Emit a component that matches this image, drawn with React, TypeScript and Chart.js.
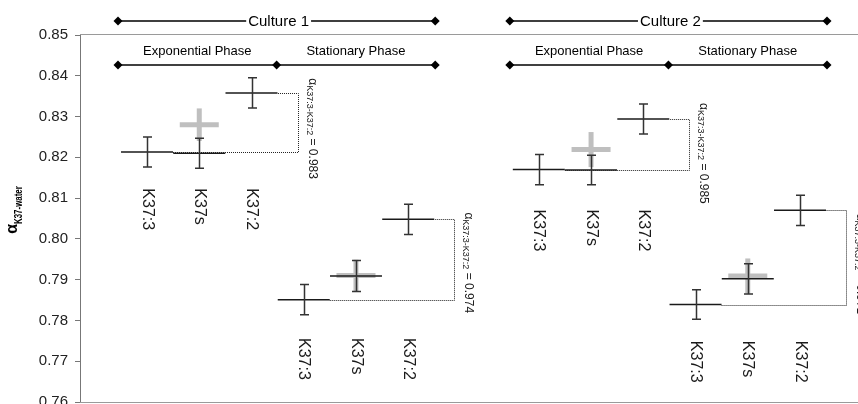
import React, { useEffect, useRef } from "react";
import { Chart, registerables } from "chart.js";

Chart.register(...registerables);

// ---------- data ----------
const categories = ["K37:3", "K37s", "K37:2"];
const cultureNames = ["Culture 1", "Culture 2"];
const phaseNames = ["Exponential Phase", "Stationary Phase"];

// x positions (axis units) of the three compounds in each culture/phase group
const groupX = [
  [1, 2, 3],
  [4, 5, 6],
  [8.5, 9.5, 10.5],
  [11.5, 12.5, 13.5],
];
// alpha K37-water values and their error (±)
const groupValues = [
  [0.8213, 0.821, 0.8358],
  [0.7851, 0.7909, 0.8048],
  [0.817, 0.8169, 0.8294],
  [0.7839, 0.7902, 0.807],
];
const groupErrors = [
  [0.0037, 0.0037, 0.0037],
  [0.0037, 0.0038, 0.0037],
  [0.0037, 0.0036, 0.0037],
  [0.0036, 0.0037, 0.0037],
];
// grey K37s estimate
const k37sGreyValues = [0.828, 0.791, 0.8219, 0.7909];
const k37sGreyErrors = [0.004, 0.0039, 0.0043, 0.0043];
// alpha K37:3-K37:2 annotations
const alphaRatios = ["0.983", "0.974", "0.985", "0.971"];
const alphaLabelTop = [0.8394, 0.8065, 0.8333, 0.8062];
// y value where the compound labels begin
const compoundLabelTop = [0.8124, 0.7757, 0.8072, 0.775];

const yMin = 0.76;
const yMax = 0.85;
const yStep = 0.01;

// ---------- styles ----------
const FONT = "'Liberation Sans', Arial, sans-serif";
const BLACK = "#1a1a1a";
const ERR = "#333333";
const GREY = "#bfbfbf";
const HALF = 26;

function diamond(ctx: CanvasRenderingContext2D, x: number, y: number, r: number) {
  ctx.beginPath();
  ctx.moveTo(x, y - r);
  ctx.lineTo(x + r, y);
  ctx.lineTo(x, y + r);
  ctx.lineTo(x - r, y);
  ctx.closePath();
  ctx.fill();
}

const overlay = {
  id: "overlay",
  beforeDatasetsDraw(chart: any) {
    const { ctx, scales } = chart;
    const x = scales.x;
    const y = scales.y;
    ctx.save();
    ctx.strokeStyle = GREY;
    ctx.lineWidth = 5;
    groupX.forEach((gx, g) => {
      const px = x.getPixelForValue(gx[1]);
      ctx.beginPath();
      ctx.moveTo(px, y.getPixelForValue(k37sGreyValues[g] + k37sGreyErrors[g]));
      ctx.lineTo(px, y.getPixelForValue(k37sGreyValues[g] - k37sGreyErrors[g]));
      ctx.stroke();
    });
    ctx.restore();
  },
  afterDatasetsDraw(chart: any) {
    const { ctx, scales, chartArea } = chart;
    const x = scales.x;
    const y = scales.y;
    ctx.save();

    // frame lines top / bottom
    ctx.strokeStyle = "#9a9a9a";
    ctx.lineWidth = 1;
    ctx.beginPath();
    ctx.moveTo(chartArea.left, Math.round(chartArea.top) - 0.5);
    ctx.lineTo(chartArea.right, Math.round(chartArea.top) - 0.5);
    ctx.moveTo(chartArea.left, Math.round(chartArea.bottom) + 0.5);
    ctx.lineTo(chartArea.right, Math.round(chartArea.bottom) + 0.5);
    ctx.stroke();

    // black error bars
    ctx.strokeStyle = ERR;
    ctx.lineWidth = 1.5;
    groupX.forEach((gx, g) => {
      gx.forEach((xv, i) => {
        const px = Math.round(x.getPixelForValue(xv)) + 0.5;
        const t = y.getPixelForValue(groupValues[g][i] + groupErrors[g][i]);
        const b = y.getPixelForValue(groupValues[g][i] - groupErrors[g][i]);
        ctx.beginPath();
        ctx.moveTo(px, t);
        ctx.lineTo(px, b);
        ctx.moveTo(px - 4.5, t);
        ctx.lineTo(px + 4.5, t);
        ctx.moveTo(px - 4.5, b);
        ctx.lineTo(px + 4.5, b);
        ctx.stroke();
      });
    });

    // compound labels (rotated)
    ctx.fillStyle = BLACK;
    ctx.font = `16px ${FONT}`;
    ctx.textAlign = "left";
    ctx.textBaseline = "middle";
    groupX.forEach((gx, g) => {
      gx.forEach((xv, i) => {
        ctx.save();
        ctx.translate(x.getPixelForValue(xv), y.getPixelForValue(compoundLabelTop[g]));
        ctx.rotate(Math.PI / 2);
        ctx.fillText(categories[i], 0, 0);
        ctx.restore();
      });
    });

    // dotted connectors + alpha annotations
    alphaRatios.forEach((ratio, g) => {
      const gx = groupX[g];
      const gv = groupValues[g];
      const x3 = x.getPixelForValue(gx[0]);
      const x2 = x.getPixelForValue(gx[2]);
      const y3 = Math.round(y.getPixelForValue(gv[0])) + 0.5;
      const y2 = Math.round(y.getPixelForValue(gv[2])) + 0.5;
      const cx = Math.round(x2 + 46) + 0.5;
      ctx.save();
      ctx.strokeStyle = "#222";
      ctx.lineWidth = 1;
      ctx.setLineDash([1, 1]);
      ctx.beginPath();
      ctx.moveTo(x3 + HALF, y3);
      ctx.lineTo(cx, y3);
      ctx.lineTo(cx, y2);
      ctx.lineTo(x2 + HALF, y2);
      ctx.stroke();
      ctx.restore();

      ctx.save();
      ctx.translate(cx + 14, y.getPixelForValue(alphaLabelTop[g]));
      ctx.rotate(Math.PI / 2);
      ctx.fillStyle = BLACK;
      ctx.textBaseline = "alphabetic";
      ctx.textAlign = "left";
      let pos = 0;
      ctx.font = `12px ${FONT}`;
      ctx.fillText("α", pos, 4);
      pos += ctx.measureText("α").width;
      ctx.font = `9px ${FONT}`;
      ctx.fillText("K37:3-K37:2", pos, 6);
      pos += ctx.measureText("K37:3-K37:2").width;
      ctx.font = `12px ${FONT}`;
      ctx.fillText(" = " + ratio, pos, 4);
      ctx.restore();
    });

    // headers: cultures and phases
    ctx.fillStyle = "#000";
    ctx.strokeStyle = "#000";
    ctx.lineWidth = 1.5;
    const cultureY = chartArea.top - 14;
    const phaseLineY = chartArea.top + 30;
    const phaseTextY = chartArea.top + 16;
    cultureNames.forEach((name, c) => {
      const first = groupX[c * 2][0];
      const last = groupX[c * 2 + 1][2];
      const left = x.getPixelForValue(first) - 29;
      const right = x.getPixelForValue(last) + 27;
      const mid = (left + right) / 2;
      ctx.font = `15px ${FONT}`;
      const tw = ctx.measureText(name).width;
      const tc = mid + 2;
      ctx.beginPath();
      ctx.moveTo(left, cultureY);
      ctx.lineTo(tc - tw / 2 - 2, cultureY);
      ctx.moveTo(tc + tw / 2 + 2, cultureY);
      ctx.lineTo(right, cultureY);
      ctx.stroke();
      diamond(ctx, left, cultureY, 4.5);
      diamond(ctx, right, cultureY, 4.5);
      ctx.textAlign = "center";
      ctx.textBaseline = "middle";
      ctx.fillText(name, tc, cultureY + 1);

      ctx.beginPath();
      ctx.moveTo(left, phaseLineY);
      ctx.lineTo(right, phaseLineY);
      ctx.stroke();
      diamond(ctx, left, phaseLineY, 4.5);
      diamond(ctx, mid, phaseLineY, 4.5);
      diamond(ctx, right, phaseLineY, 4.5);
      ctx.font = `13px ${FONT}`;
      ctx.fillText(phaseNames[0], (left + mid) / 2, phaseTextY);
      ctx.fillText(phaseNames[1], (mid + right) / 2, phaseTextY);
    });

    // y-axis title with subscript
    ctx.save();
    ctx.translate(14, 210);
    ctx.rotate(-Math.PI / 2);
    ctx.fillStyle = "#000";
    ctx.textAlign = "left";
    ctx.textBaseline = "alphabetic";
    ctx.font = `bold 16px ${FONT}`;
    const aW = ctx.measureText("α").width;
    ctx.font = `bold 11px ${FONT}`;
    const sub = "K37-water";
    const sW = ctx.measureText(sub).width * 0.72;
    const start = -(aW + sW) / 2;
    ctx.font = `bold 16px ${FONT}`;
    ctx.fillText("α", start, 3);
    ctx.translate(start + aW, 8);
    ctx.scale(0.72, 1);
    ctx.font = `bold 11px ${FONT}`;
    ctx.fillText(sub, 0, 0);
    ctx.restore();

    ctx.restore();
  },
};

export default function App() {
  const ref = useRef<HTMLCanvasElement | null>(null);

  useEffect(() => {
    if (!ref.current) return;
    const blackPoints: { x: number; y: number }[] = [];
    groupX.forEach((gx, g) => gx.forEach((xv, i) => blackPoints.push({ x: xv, y: groupValues[g][i] })));
    const greyPoints = groupX.map((gx, g) => ({ x: gx[1], y: k37sGreyValues[g] }));

    const chart = new Chart(ref.current, {
      type: "scatter",
      data: {
        datasets: [
          {
            label: "alpha",
            data: blackPoints,
            pointStyle: "line",
            pointRadius: HALF,
            pointHoverRadius: HALF,
            borderColor: BLACK,
            backgroundColor: BLACK,
            borderWidth: 1.5,
            pointBorderWidth: 1.5,
            showLine: false,
            order: 0,
            clip: false,
          },
          {
            label: "K37s grey",
            data: greyPoints,
            pointStyle: "line",
            pointRadius: 19.5,
            pointHoverRadius: 19.5,
            borderColor: GREY,
            backgroundColor: GREY,
            borderWidth: 5,
            pointBorderWidth: 5,
            showLine: false,
            order: 1,
            clip: false,
          },
        ],
      },
      options: {
        animation: false,
        responsive: false,
        devicePixelRatio: 1,
        events: [],
        layout: { autoPadding: false, padding: { top: 35, bottom: 11, left: 0, right: 0 } },
        plugins: { legend: { display: false }, tooltip: { enabled: false } },
        scales: {
          x: { type: "linear", display: false, min: -0.283, max: 14.61 },
          y: {
            type: "linear",
            min: yMin,
            max: yMax,
            afterFit(scale: any) {
              scale.width = 80;
            },
            ticks: {
              stepSize: yStep,
              callback: (v: any) => Number(v).toFixed(2),
              font: { family: FONT, size: 15 },
              color: "#222",
              padding: 7,
            },
            grid: { drawOnChartArea: false, drawTicks: true, tickLength: 5, color: "#777" },
            border: { color: "#777", width: 1 },
          },
        },
      } as any,
      plugins: [overlay],
    });
    return () => chart.destroy();
  }, []);

  return (
    <div
      style={{
        position: "fixed",
        left: 0,
        top: 0,
        width: 858,
        height: 404,
        overflow: "hidden",
        background: "#fff",
      }}
    >
      <canvas ref={ref} width={858} height={418} style={{ display: "block" }} />
    </div>
  );
}
